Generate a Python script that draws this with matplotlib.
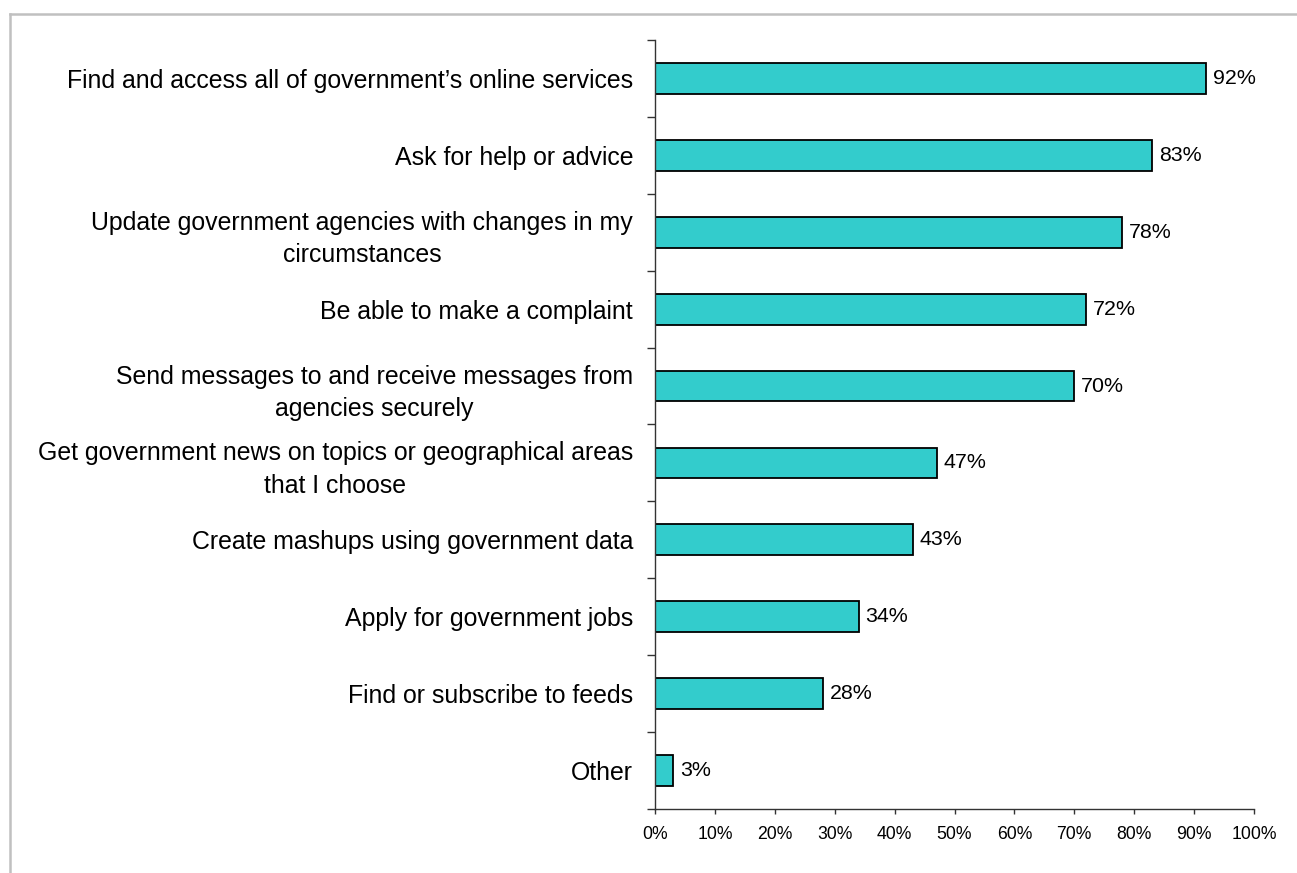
import matplotlib.pyplot as plt
from matplotlib.lines import Line2D
from matplotlib.ticker import FixedLocator, PercentFormatter
import numpy as np

plt.rcParams['font.family'] = ['Liberation Sans', 'DejaVu Sans']

# Survey answers, top to bottom
features = [
    "Find and access all of government\u2019s online services",
    "Ask for help or advice",
    "Update government agencies with changes in my\ncircumstances",
    "Be able to make a complaint",
    "Send messages to and receive messages from\nagencies securely",
    "Get government news on topics or geographical areas\nthat I choose",
    "Create mashups using government data",
    "Apply for government jobs",
    "Find or subscribe to feeds",
    "Other",
]
shares = [92, 83, 78, 72, 70, 47, 43, 34, 28, 3]
x_ticks = [0, 10, 20, 30, 40, 50, 60, 70, 80, 90, 100]

fig = plt.figure(figsize=(12.97, 8.73), dpi=100)
ax = fig.add_axes([655 / 1297, 1 - 809 / 873, 599 / 1297, 769 / 873])

pos = np.arange(len(features))
ax.barh(pos, shares, height=0.4, color='#33CCCC', edgecolor='black', linewidth=1.3)

for y, v in zip(pos, shares):
    ax.annotate(f'{v}%', xy=(v, y), xytext=(5, 0), textcoords='offset points',
                ha='left', va='center', fontsize=15.4, color='black')

ax.set_xlim(0, 100)
ax.set_ylim(len(features) - 0.5, -0.5)
ax.set_xticks(x_ticks)
ax.xaxis.set_major_formatter(PercentFormatter(decimals=0))

# category names sit at bar centres, tick marks go between categories
ax.set_yticks(pos)
ax.set_yticklabels(features, multialignment='center', linespacing=1.45)
ax.yaxis.set_minor_locator(FixedLocator(np.arange(-0.5, len(features), 1)))

ax.tick_params(axis='y', which='major', length=0, pad=15.8, labelsize=17.9)
ax.tick_params(axis='y', which='minor', length=6, width=1, color='#333333')
ax.tick_params(axis='x', length=3.4, width=1, color='#333333', pad=9, labelsize=12.7)

for side in ('top', 'right'):
    ax.spines[side].set_visible(False)
for side in ('left', 'bottom'):
    ax.spines[side].set_color('#333333')
    ax.spines[side].set_linewidth(1)

# light grey frame along the top and left of the figure
fig.add_artist(Line2D([10 / 1297, 1], [1 - 13.5 / 873, 1 - 13.5 / 873],
                      transform=fig.transFigure, color='#c0c0c0', linewidth=1.8))
fig.add_artist(Line2D([10 / 1297, 10 / 1297], [0, 1 - 13.5 / 873],
                      transform=fig.transFigure, color='#c0c0c0', linewidth=1.8))

fig.savefig('out.png', dpi=100)
